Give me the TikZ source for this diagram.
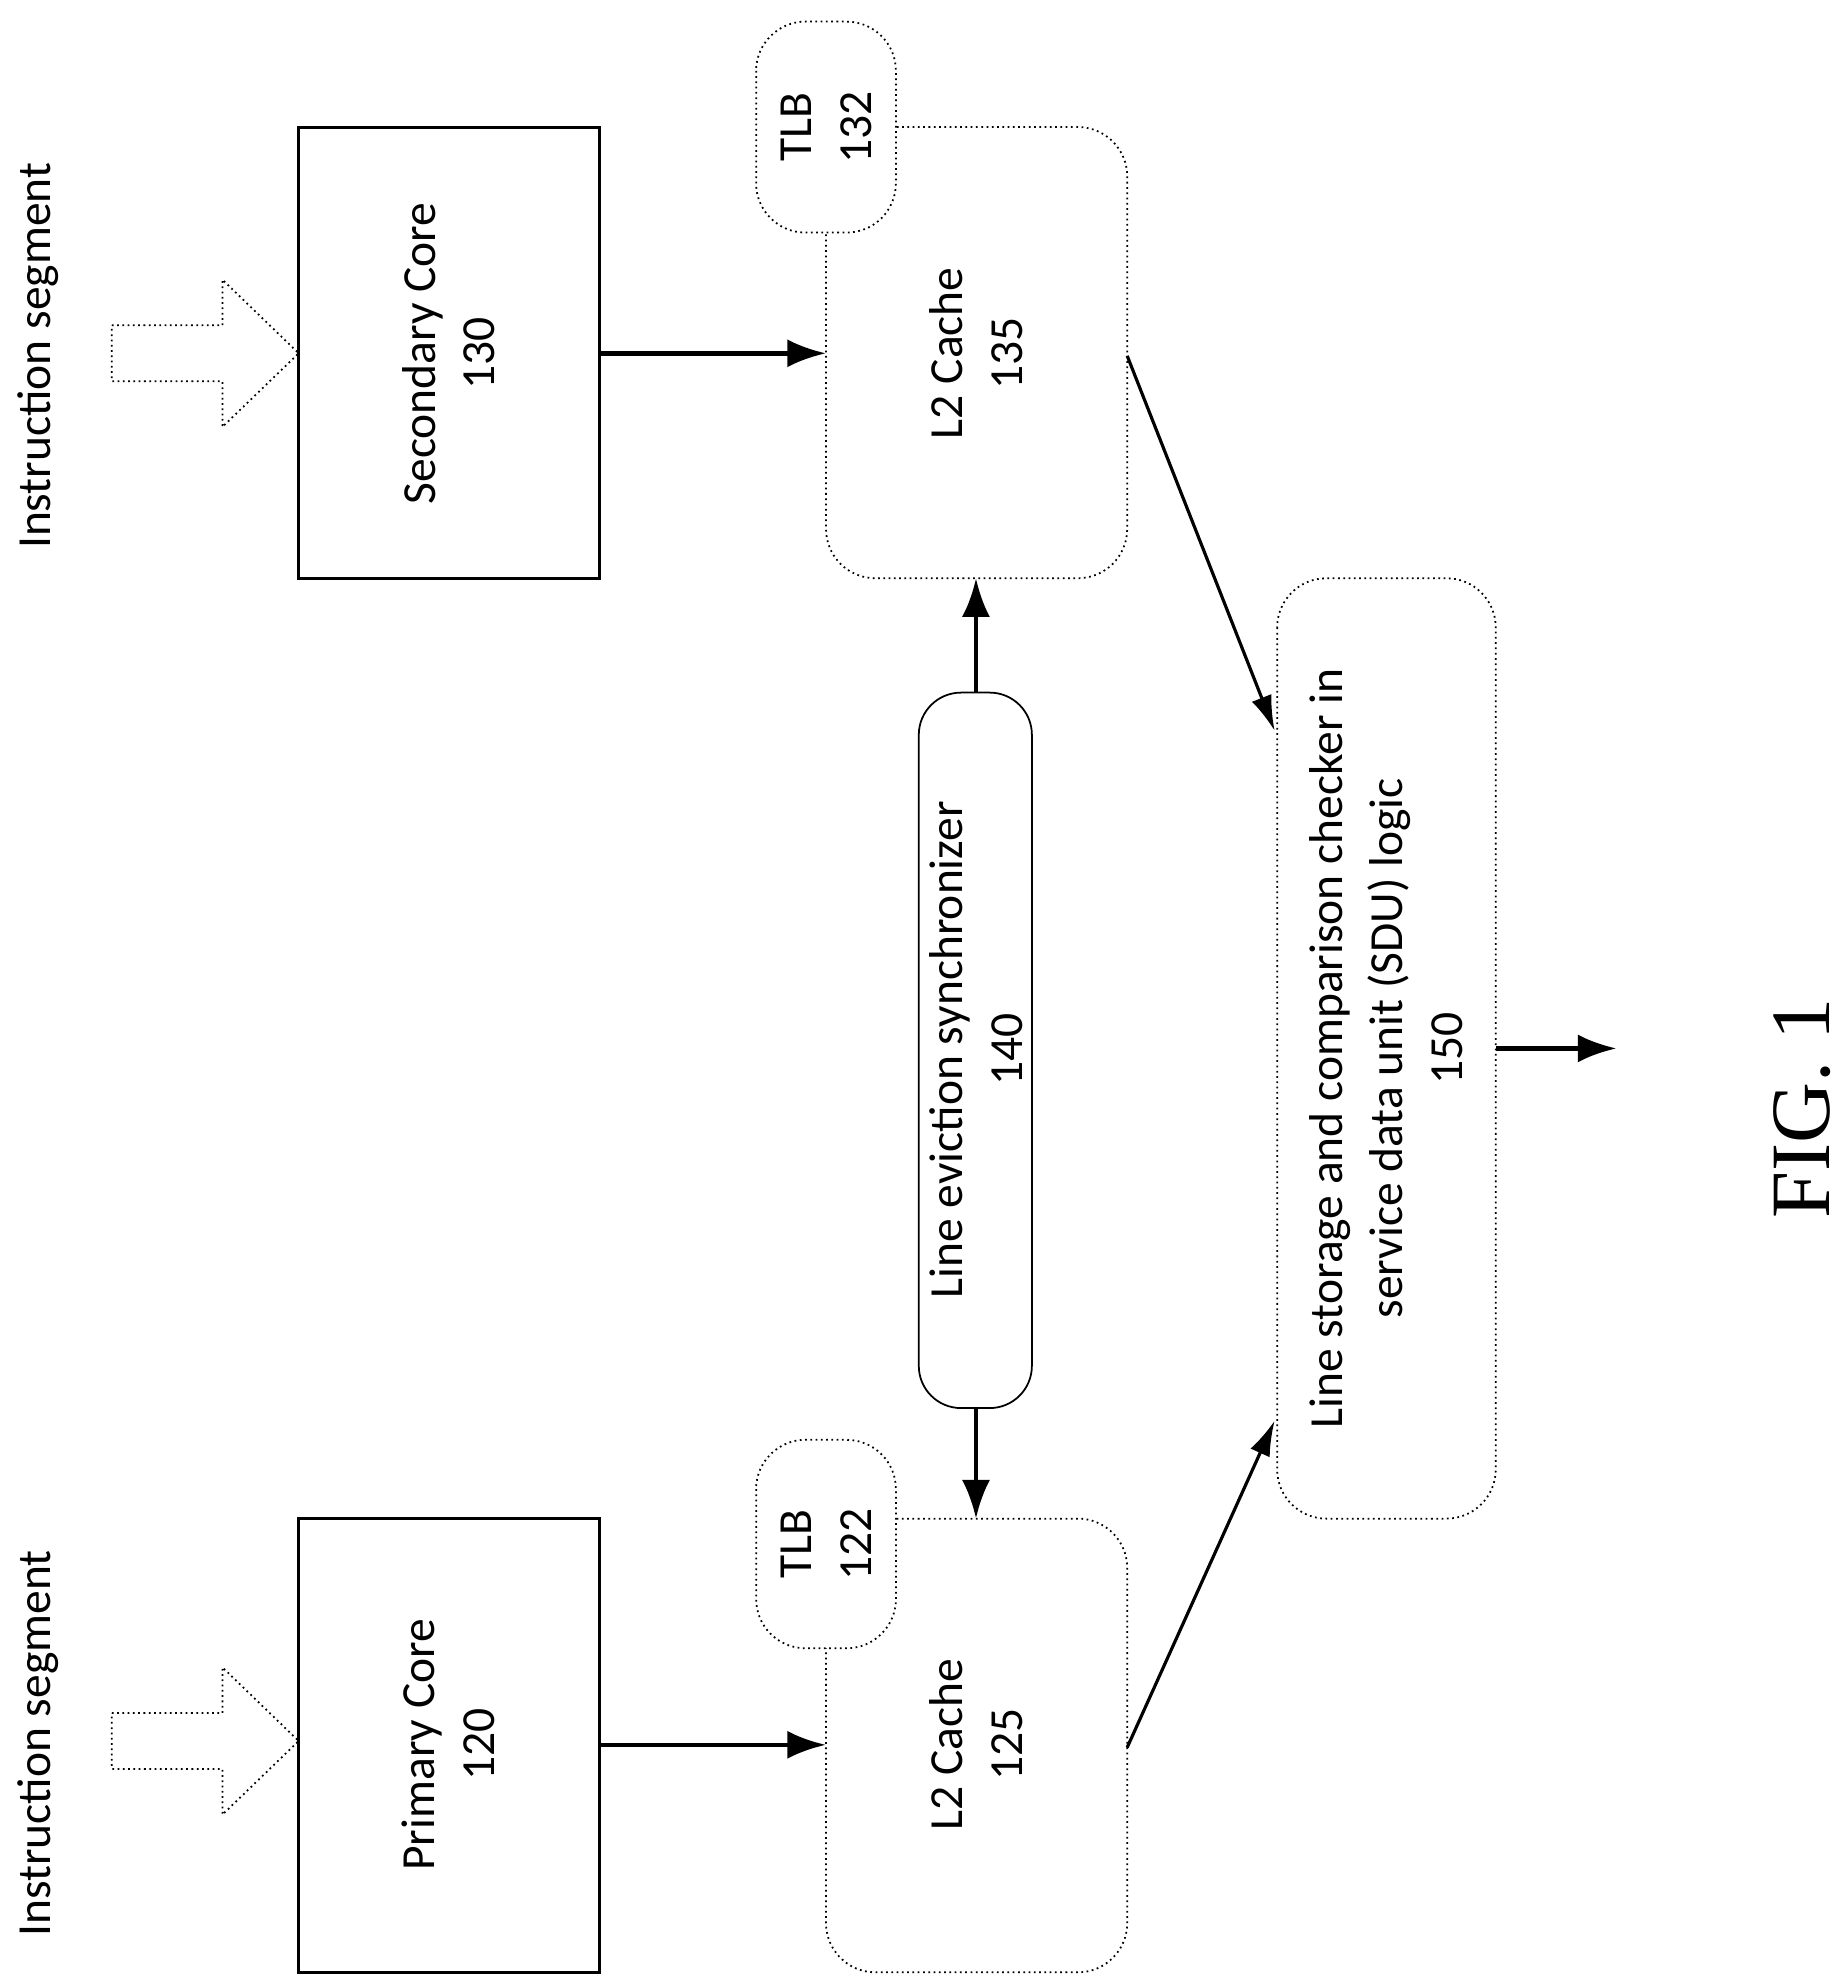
\documentclass[tikz,border=0pt]{standalone}
\usepackage{fontspec}
\setmainfont{Carlito}
\newfontfamily\figfont{Liberation Serif}
\usetikzlibrary{arrows.meta}
\begin{document}
\begin{tikzpicture}[x=0.0127cm,y=-0.0127cm,
  txt/.style={rotate=90,font=\fontsize{13.5}{17}\selectfont,align=center},
  core/.style={draw,line width=0.8pt},
  dbox/.style={draw,densely dotted,line width=0.5pt,rounded corners=14pt,fill=white},
  sbox/.style={draw,line width=0.5pt,rounded corners=12pt,fill=white},
  arr/.style={-{Latex[length=11pt,width=8pt]},line width=1.3pt},
  arrt/.style={-{Latex[length=10pt,width=6pt]},line width=0.9pt},
  hol/.style={draw,densely dotted,line width=0.5pt,fill=white}]
\useasboundingbox (0,0) rectangle (1450,1562);
% instruction text
\node[txt] (is1) at (30,280) {Instruction segment};
\node[txt] (is2) at (30,1372) {Instruction segment};
% hollow arrows
\draw[hol] (88,256)--(175,256)--(175,220)--(235,278)--(175,336)--(175,300)--(88,300)--cycle;
\draw[hol] (88,1348)--(175,1348)--(175,1312)--(235,1370)--(175,1428)--(175,1392)--(88,1392)--cycle;
% cores
\draw[core] (235,100) rectangle (472,455);
\node[txt] (sc) at (353,278) {Secondary Core\\130};
\draw[core] (235,1195) rectangle (472,1552);
\node[txt] (pc) at (353,1373) {Primary Core\\120};
% L2 caches
\draw[dbox] (650,100) rectangle (887,455);
\node[txt] (l2a) at (768,278) {L2 Cache\\135};
\draw[dbox] (650,1195) rectangle (887,1552);
\node[txt] (l2b) at (768,1373) {L2 Cache\\125};
% TLBs
\draw[dbox] (595,17) rectangle (705,183);
\node[txt] (tlba) at (650,100) {TLB\\132};
\draw[dbox] (595,1133) rectangle (705,1297);
\node[txt] (tlbb) at (650,1215) {TLB\\122};
% synchronizer
\draw[sbox] (723,545) rectangle (812,1108);
\node[txt] (sync) at (768,826) {Line eviction synchronizer\\140};
% SDU
\draw[dbox] (1005,455) rectangle (1177,1195);
\node[txt] (sdu) at (1091,825) {Line storage and comparison checker in\\service data unit (SDU) logic\\150};
% coordinates
\coordinate (a1) at (472,278); \coordinate (a2) at (650,278);
\coordinate (b1) at (472,1373); \coordinate (b2) at (650,1373);
\coordinate (s1) at (768,545); \coordinate (s2) at (768,455);
\coordinate (s3) at (768,1108); \coordinate (s4) at (768,1195);
\coordinate (c1) at (887,280); \coordinate (c2) at (1003,575);
\coordinate (d1) at (887,1375); \coordinate (d2) at (1003,1118);
\coordinate (o1) at (1177,825); \coordinate (o2) at (1272,825);
\draw[arr] (a1)--(a2);
\draw[arr] (b1)--(b2);
\draw[arr] (s1)--(s2);
\draw[arr] (s3)--(s4);
\draw[arrt] (c1)--(c2);
\draw[arrt] (d1)--(d2);
\draw[arr] (o1)--(o2);
\node[rotate=90,font=\figfont\fontsize{24}{28}\selectfont] (fig) at (1418,872) {FIG. 1};
\end{tikzpicture}
\end{document}
